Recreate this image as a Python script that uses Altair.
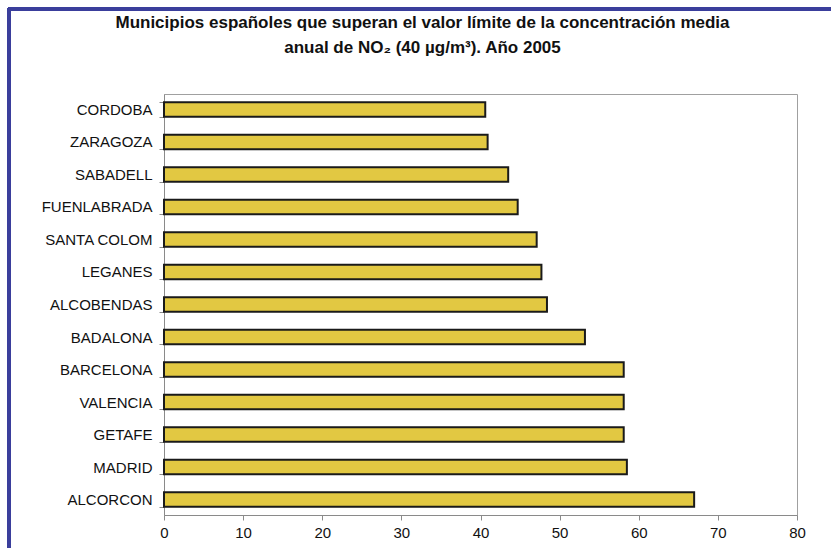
import altair as alt
import pandas as pd

municipios = ["CORDOBA", "ZARAGOZA", "SABADELL", "FUENLABRADA", "SANTA COLOM",
              "LEGANES", "ALCOBENDAS", "BADALONA", "BARCELONA", "VALENCIA",
              "GETAFE", "MADRID", "ALCORCON"]
valores = [40.6, 40.9, 43.5, 44.7, 47.1, 47.7, 48.4, 53.2, 58.1, 58.1, 58.1, 58.5, 67.0]
x_ticks = [0, 10, 20, 30, 40, 50, 60, 70, 80]
titulo = ["Municipios españoles que superan el valor límite de la concentración media",
          "anual de NO₂ (40 µg/m³). Año 2005"]

df = pd.DataFrame({"municipio": municipios, "valor": valores})

FONT = "Liberation Sans"

bars = alt.Chart(df).mark_bar(
    fill="#e2c842", stroke="#1a1a1a", strokeWidth=2
).encode(
    x=alt.X("valor:Q",
            scale=alt.Scale(domain=[0, 80], nice=False),
            axis=alt.Axis(values=x_ticks, title=None, grid=False, tickSize=5,
                          labelFontSize=15, labelFont=FONT, labelColor="#111",
                          labelPadding=5, domainColor="#8a8a8a", tickColor="#8a8a8a",
                          labelFlush=False, labelOverlap=False)),
    y=alt.Y("municipio:N", sort=municipios,
            scale=alt.Scale(paddingInner=0.55, paddingOuter=0.25),
            axis=alt.Axis(title=None, tickSize=5, tickBand="extent",
                          labelFontSize=15, labelFont=FONT, labelColor="#111",
                          labelPadding=7, domainColor="#8a8a8a", tickColor="#8a8a8a")),
)

frame_top = alt.Chart(df).mark_rule(color="#3b3f9b", strokeWidth=3).encode(
    x=alt.value(-156), x2=alt.value(700), y=alt.value(-85)
)
frame_left = alt.Chart(df).mark_rule(color="#3b3f9b", strokeWidth=3).encode(
    x=alt.value(-155), y=alt.value(-86), y2=alt.value(470)
)

chart = alt.layer(bars, frame_top, frame_left).properties(
    width=633, height=421,
    autosize=alt.AutoSizeParams(type="none"),
    padding={"left": 164, "top": 94, "right": 34, "bottom": 33},
    background="white",
    title=alt.TitleParams(titulo, font=FONT, fontSize=17, fontWeight="bold",
                          color="#111", anchor="middle", dx=-58, offset=-50,
                          lineHeight=25, frame="group"),
).configure_view(stroke="#a0a0a0", strokeWidth=1)

chart.save("out.html", embed_options={"renderer": "svg", "actions": False})
